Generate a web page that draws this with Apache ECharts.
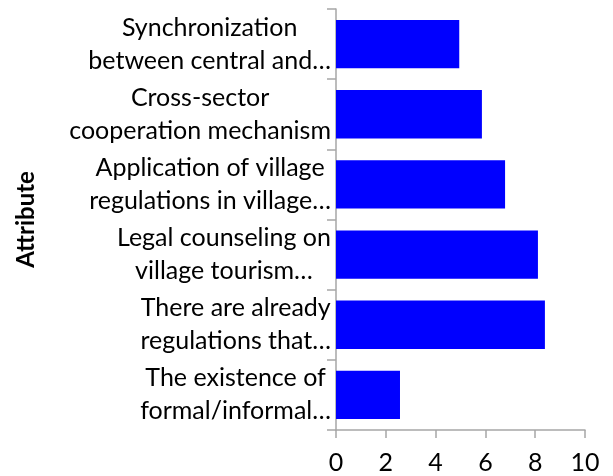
<!DOCTYPE html>
<html>
<head>
<meta charset="utf-8">
<script src="https://cdn.jsdelivr.net/npm/echarts@6/dist/echarts.min.js"></script>
<style>
  html, body { margin: 0; padding: 0; background: #fff; }
  #main { width: 613px; height: 476px; }
</style>
</head>
<body>
<div id="main"></div>
<script>
var categories = [
    'Synchronization\nbetween central and…',
    'Cross-sector\ncooperation mechanism',
    'Application of village\nregulations in village…',
    'Legal counseling on\nvillage tourism…',
    'There are already\nregulations that…',
    'The existence of\nformal/informal…'
];
var values = [4.95, 5.86, 6.79, 8.11, 8.39, 2.57];
var xTicks = [0, 2, 4, 6, 8, 10];

var myChart = echarts.init(document.getElementById('main'));
var option = {
    textStyle: { fontFamily: 'Lato' },
    grid: {
        left: 336,
        right: 28,
        top: 9,
        bottom: 46
    },
    xAxis: {
        type: 'value',
        min: xTicks[0],
        max: xTicks[xTicks.length - 1],
        interval: 2,
        splitLine: { show: false },
        axisLine: { show: true, lineStyle: { color: '#a6a6a6', width: 1.5 } },
        axisTick: { show: true, length: 8, lineStyle: { color: '#a6a6a6', width: 1.5 } },
        axisLabel: { color: '#000', fontSize: 25, margin: 20 }
    },
    yAxis: {
        type: 'category',
        inverse: true,
        data: categories,
        name: 'Attribute',
        nameLocation: 'middle',
        nameRotate: 90,
        nameGap: 298,
        nameTextStyle: { color: '#000', fontSize: 24, fontWeight: 'bold' },
        axisLine: { show: true, lineStyle: { color: '#a6a6a6', width: 1.5 } },
        axisTick: { show: true, length: 9, lineStyle: { color: '#a6a6a6', width: 1.5 } },
        axisLabel: {
            color: '#000',
            margin: 5,
            align: 'right',
            formatter: function (v) {
                return v.split('\n').map(function (s) { return '{c|' + s + '}'; }).join('\n');
            },
            rich: {
                c: { align: 'center', fontSize: 25, lineHeight: 33, color: '#000' }
            }
        }
    },
    series: [
        {
            type: 'bar',
            data: values,
            barCategoryGap: '31%',
            itemStyle: { color: '#0000ff' }
        }
    ]
};
myChart.setOption(option);
</script>
</body>
</html>
